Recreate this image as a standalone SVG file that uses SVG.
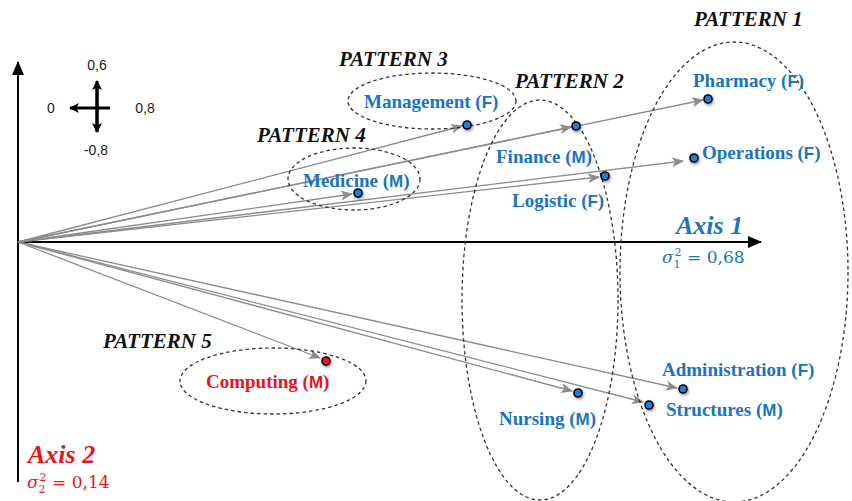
<svg xmlns="http://www.w3.org/2000/svg" width="852" height="501" viewBox="0 0 852 501">
<defs>
<style>
.ax{stroke:#000;stroke-width:2;fill:none}
.vec{stroke:#8c8c8c;stroke-width:1.3;fill:none}
.ell{stroke:#333;stroke-width:1.3;fill:none;stroke-dasharray:3.5 3}
.lbl{font-family:'Liberation Serif','Times New Roman','DejaVu Serif',serif;font-weight:bold;font-size:19px;fill:#1b74c0}
.sx{font-family:'Liberation Sans',Arial,sans-serif;font-size:17px}
.pat{font-family:'Liberation Serif','Times New Roman','DejaVu Serif',serif;font-weight:bold;font-style:italic;font-size:21px;fill:#111}
.axt{font-family:'Liberation Serif','Times New Roman','DejaVu Serif',serif;font-weight:bold;font-style:italic;font-size:26px}
.sig{font-family:'DejaVu Serif','Liberation Serif',serif;font-size:17px}
.cmp{font-family:'Liberation Sans',Arial,sans-serif;font-size:14px;fill:#222}
.dot{fill:#1f7fd6;stroke:#000;stroke-width:1.6}
</style>
<marker id="ga" viewBox="0 0 12 10" refX="11" refY="5" markerWidth="12" markerHeight="10" markerUnits="userSpaceOnUse" orient="auto">
<path d="M0,0 L12,5 L0,10 L3,5 Z" fill="#8c8c8c"/>
</marker>
<marker id="ba" viewBox="0 0 14 12" refX="13" refY="6" markerWidth="14" markerHeight="12" markerUnits="userSpaceOnUse" orient="auto">
<path d="M0,0 L14,6 L0,12 Z" fill="#000"/>
</marker>
<marker id="ca" viewBox="0 0 10 10" refX="9" refY="5" markerWidth="10" markerHeight="10" markerUnits="userSpaceOnUse" orient="auto">
<path d="M0,0 L10,5 L0,10 L2.5,5 Z" fill="#000"/>
</marker>
<filter id="sh" x="-1" y="-1" width="3" height="3">
<feDropShadow dx="1" dy="1.5" stdDeviation="1.5" flood-color="#000" flood-opacity="0.45"/>
</filter>
</defs>
<rect width="852" height="501" fill="#fff"/>

<g id="axes">
<line class="ax" x1="18" y1="482" x2="18" y2="62" marker-end="url(#ba)"/>
<line class="ax" x1="18" y1="242" x2="761" y2="242" marker-end="url(#ba)"/>
<text class="axt" x="676" y="234" fill="#1b74c0">Axis 1</text>
<text class="sig" x="662" y="263" fill="#1b74c0"><tspan font-style="italic">σ</tspan><tspan font-size="11" dy="5">1</tspan><tspan font-size="11" dx="-6" dy="-12">2</tspan><tspan dy="7"> = 0,68</tspan></text>
<text class="axt" x="28" y="463" fill="#e8141b">Axis 2</text>
<text class="sig" x="27" y="488" fill="#e8141b"><tspan font-style="italic">σ</tspan><tspan font-size="11" dy="5">2</tspan><tspan font-size="11" dx="-6" dy="-12">2</tspan><tspan dy="7"> = 0,14</tspan></text>
</g>

<g id="compass">
<line x1="97" y1="131" x2="97" y2="81" stroke="#000" stroke-width="3" marker-end="url(#ca)"/>
<line x1="97" y1="85" x2="97" y2="132" stroke="#000" stroke-width="3" marker-end="url(#ca)"/>
<line x1="110" y1="108" x2="70" y2="108" stroke="#000" stroke-width="3" marker-end="url(#ca)"/>
<text class="cmp" x="97" y="70" text-anchor="middle">0,6</text>
<text class="cmp" x="51" y="113" text-anchor="middle">0</text>
<text class="cmp" x="145" y="113" text-anchor="middle">0,8</text>
<text class="cmp" x="96" y="155" text-anchor="middle">-0,8</text>
</g>

<g id="connectors">
<line class="vec" x1="18" y1="242" x2="703" y2="100" marker-end="url(#ga)"/>
<line class="vec" x1="18" y1="242" x2="571" y2="127" marker-end="url(#ga)"/>
<line class="vec" x1="18" y1="242" x2="683" y2="161" marker-end="url(#ga)"/>
<line class="vec" x1="18" y1="242" x2="599" y2="177" marker-end="url(#ga)"/>
<line class="vec" x1="18" y1="242" x2="462" y2="126" marker-end="url(#ga)"/>
<line class="vec" x1="18" y1="242" x2="352" y2="194" marker-end="url(#ga)"/>
<line class="vec" x1="18" y1="242" x2="320" y2="358" marker-end="url(#ga)"/>
<line class="vec" x1="18" y1="242" x2="572" y2="391" marker-end="url(#ga)"/>
<line class="vec" x1="18" y1="242" x2="677" y2="388" marker-end="url(#ga)"/>
<line class="vec" x1="18" y1="242" x2="643" y2="402" marker-end="url(#ga)"/>
</g>

<g id="pattern1">
<ellipse class="ell" cx="734" cy="272" rx="114" ry="230"/>
<text class="pat" x="694" y="26">PATTERN 1</text>
</g>
<g id="pattern2">
<ellipse class="ell" cx="540" cy="300" rx="78" ry="200"/>
<text class="pat" x="515" y="88">PATTERN 2</text>
</g>
<g id="pattern3">
<ellipse class="ell" cx="432" cy="101" rx="84" ry="28"/>
<text class="pat" x="339" y="66">PATTERN 3</text>
</g>
<g id="pattern4">
<ellipse class="ell" cx="354" cy="179" rx="66" ry="31"/>
<text class="pat" x="257" y="142">PATTERN 4</text>
</g>
<g id="pattern5">
<ellipse class="ell" cx="273" cy="381" rx="93" ry="33"/>
<text class="pat" x="103" y="348">PATTERN 5</text>
</g>

<g id="pharmacy">
<circle class="dot" cx="708" cy="99" r="4" filter="url(#sh)"/>
<text class="lbl" x="693" y="87">Pharmacy (<tspan class="sx">F</tspan>)</text>
</g>
<g id="operations">
<circle class="dot" cx="694" cy="158" r="4" filter="url(#sh)"/>
<text class="lbl" x="702" y="159">Operations (<tspan class="sx">F</tspan>)</text>
</g>
<g id="finance">
<circle class="dot" cx="576" cy="126" r="4" filter="url(#sh)"/>
<text class="lbl" x="496" y="163">Finance (<tspan class="sx">M</tspan>)</text>
</g>
<g id="logistic">
<circle class="dot" cx="605" cy="176" r="4" filter="url(#sh)"/>
<text class="lbl" x="512" y="207">Logistic (<tspan class="sx">F</tspan>)</text>
</g>
<g id="management">
<circle class="dot" cx="467" cy="125" r="4" filter="url(#sh)"/>
<text class="lbl" x="364" y="108">Management (<tspan class="sx">F</tspan>)</text>
</g>
<g id="medicine">
<circle class="dot" cx="358" cy="193" r="4" filter="url(#sh)"/>
<text class="lbl" x="303" y="187">Medicine (<tspan class="sx">M</tspan>)</text>
</g>
<g id="computing">
<circle cx="326" cy="361" r="4" fill="#e8141b" stroke="#000" stroke-width="1.6" filter="url(#sh)"/>
<text class="lbl" x="206" y="388" style="fill:#e8141b">Computing (<tspan class="sx">M</tspan>)</text>
</g>
<g id="nursing">
<circle class="dot" cx="578" cy="393" r="4" filter="url(#sh)"/>
<text class="lbl" x="499" y="425">Nursing (<tspan class="sx">M</tspan>)</text>
</g>
<g id="administration">
<circle class="dot" cx="683" cy="389" r="4" filter="url(#sh)"/>
<text class="lbl" x="662" y="376">Administration (<tspan class="sx">F</tspan>)</text>
</g>
<g id="structures">
<circle class="dot" cx="649" cy="405" r="4" filter="url(#sh)"/>
<text class="lbl" x="666" y="416">Structures (<tspan class="sx">M</tspan>)</text>
</g>
</svg>
